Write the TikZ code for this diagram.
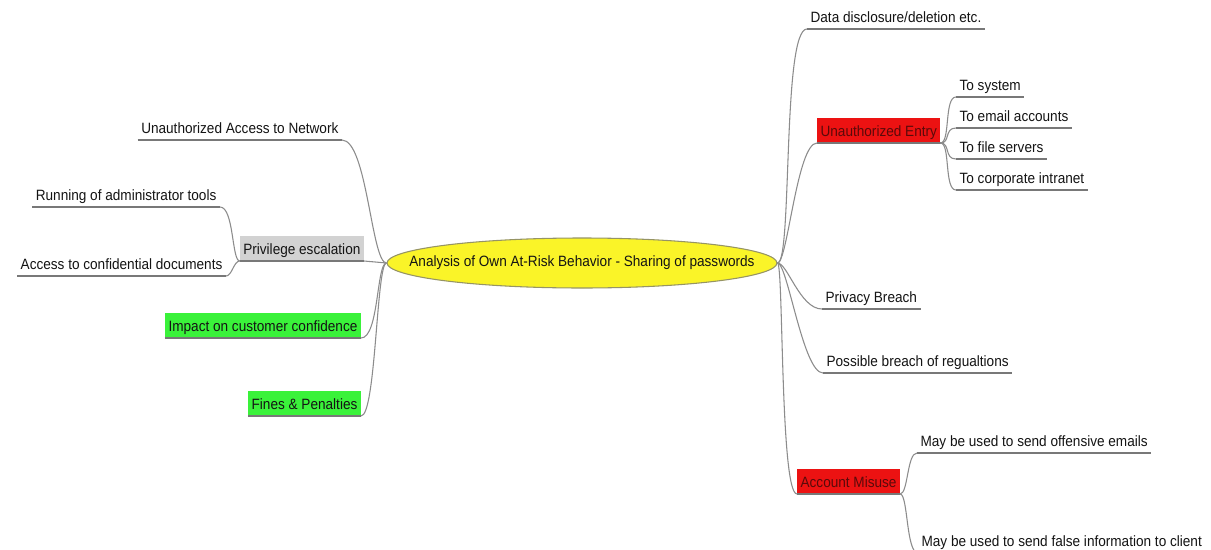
\documentclass[tikz,border=0pt]{standalone}
\usepackage{fontspec}
\setmainfont{Liberation Sans}[FakeStretch=0.91]
\usetikzlibrary{shapes.geometric}

\definecolor{edgegray}{RGB}{140,140,140}
\definecolor{linegray}{RGB}{120,120,120}
\definecolor{boxgray}{RGB}{210,210,210}
\definecolor{boxgreen}{RGB}{58,242,58}
\definecolor{boxred}{RGB}{236,18,18}
\definecolor{redtext}{RGB}{90,10,10}
\definecolor{rootfill}{RGB}{250,244,40}
\definecolor{rootline}{RGB}{150,148,100}

\begin{document}
\begin{tikzpicture}[
  x=0.75pt, y=-0.75pt,
  topic/.style={font=\fontsize{11.2}{13}\selectfont, text height=8.5pt,
    text depth=0pt, inner xsep=2.5pt, inner ysep=5pt, text=black!92},
  leafL/.style={topic, anchor=south east},
  leafR/.style={topic, anchor=south west},
  greybox/.style={fill=boxgray},
  greenbox/.style={fill=boxgreen},
  redbox/.style={fill=boxred, text=redtext},
  edge/.style={draw=edgegray, line width=0.8pt},
  uline/.style={draw=linegray, line width=0.9pt},
  rootnode/.style={ellipse, draw=rootline, fill=rootfill, line width=0.8pt,
    minimum width=292.5pt, minimum height=37.5pt, inner sep=0pt},
  roottext/.style={font=\fontsize{11.2}{13}\selectfont, text=black!92}
]
\useasboundingbox (0,0) rectangle (1211,550);
\clip (0,0) rectangle (1211,550);
\fill[white] (0,0) rectangle (1211,550);

% central topic: fixed-size ellipse with its title centred on it
\node[rootnode, label={[roottext]center:Analysis of Own At-Risk Behavior - Sharing of passwords}]
  (root) at (582,263) {};

% left-hand branches
\node[leafL] (net) at (342,140) {Unauthorized Access to Network};
\node[leafL, greybox] (priv) at (364,261) {Privilege escalation};
\node[leafL] (tools) at (220,207) {Running of administrator tools};
\node[leafL] (docs) at (226,276) {Access to confidential documents};
\node[leafL, greenbox] (conf) at (361,338) {Impact on customer confidence};
\node[leafL, greenbox] (fines) at (361,416) {Fines \& Penalties};

% right-hand branches
\node[leafR] (data) at (807,29) {Data disclosure/deletion etc.};
\node[leafR, redbox] (entry) at (817,143) {Unauthorized Entry};
\node[leafR] (sys) at (956,97) {To system};
\node[leafR] (mail) at (956,128) {To email accounts};
\node[leafR] (files) at (956,159) {To file servers};
\node[leafR] (intra) at (956,190) {To corporate intranet};
\node[leafR] (privacy) at (822,309) {Privacy Breach};
\node[leafR] (regs) at (823,373) {Possible breach of regualtions};
\node[leafR, redbox] (misuse) at (797,494) {Account Misuse};
\node[leafR] (offend) at (917,453) {May be used to send offensive emails};
\node[leafR] (falseinfo) at (918,553) {May be used to send false information to client};

% underlines
\foreach \n in {net,priv,tools,docs,conf,fines,data,entry,sys,mail,files,intra,privacy,regs,misuse,offend,falseinfo}
  \draw[uline] (\n.south west) -- (\n.south east);

% connectors, left
\draw[edge] (root.west) .. controls +(-15,0) and +(25,0) .. (net.south east);
\draw[edge] (root.west) -- (priv.south east);
\draw[edge] (root.west) .. controls +(-10,0) and +(18,0) .. (conf.south east);
\draw[edge] (root.west) .. controls +(-10,0) and +(15,0) .. (fines.south east);
\draw[edge] (priv.south west) .. controls +(-8,0) and +(14,0) .. (tools.south east);
\draw[edge] (priv.south west) .. controls +(-6,0) and +(6,0) .. (docs.south east);

% connectors, right
\draw[edge] (root.east) .. controls +(15,0) and +(-25,0) .. (data.south west);
\draw[edge] (root.east) .. controls +(10,0) and +(-20,0) .. (entry.south west);
\draw[edge] (root.east) .. controls +(10,0) and +(-22,0) .. (privacy.south west);
\draw[edge] (root.east) .. controls +(10,0) and +(-20,0) .. (regs.south west);
\draw[edge] (root.east) .. controls +(6,0) and +(-17,0) .. (misuse.south west);
\foreach \n in {sys,mail,files,intra}
  \draw[edge] (entry.south east) .. controls +(10,0) and +(-12,0) .. (\n.south west);
\draw[edge] (misuse.south east) .. controls +(8,0) and +(-10,0) .. (offend.south west);
\draw[edge] (misuse.south east) .. controls +(8,0) and +(-12,0) .. (falseinfo.south west);
\end{tikzpicture}
\end{document}
